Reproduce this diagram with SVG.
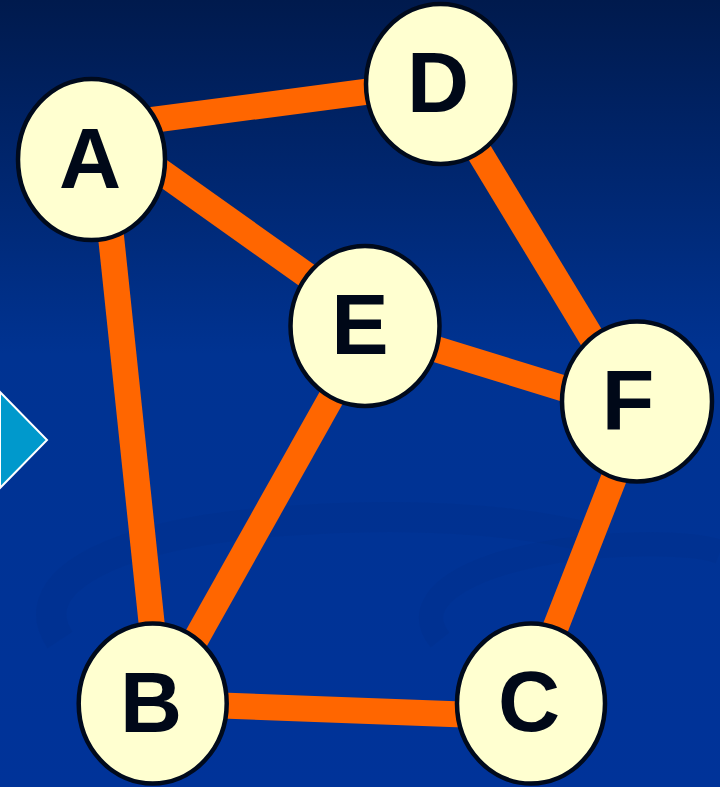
<svg xmlns="http://www.w3.org/2000/svg" width="720" height="787" viewBox="0 0 720 787">
  <defs>
    <linearGradient id="bg" x1="0" y1="0" x2="0" y2="1">
      <stop offset="0" stop-color="#001a4d"/>
      <stop offset="0.45" stop-color="#003392"/>
      <stop offset="1" stop-color="#003399"/>
    </linearGradient>
    <style>
      .edge { stroke: #ff6600; stroke-width: 26; stroke-linecap: butt; fill: none; }
      .node ellipse { fill: #ffffd0; stroke: #000a1c; stroke-width: 4.5; }
      .node text { font-family: "Liberation Sans", Arial, sans-serif; font-weight: bold; font-size: 86px; fill: #000818; text-anchor: middle; }
      .swirl { fill: none; stroke: #002a80; stroke-opacity: 0.18; }
    </style>
  </defs>

  <rect x="0" y="0" width="720" height="787" fill="url(#bg)"/>

  <g id="background-swirls">
    <path class="swirl" stroke-width="30" d="M 60 640 C 20 580, 120 530, 300 520 C 420 512, 520 520, 600 540"/>
    <path class="swirl" stroke-width="24" d="M 440 640 C 400 590, 500 550, 620 545 C 680 542, 710 548, 720 552"/>
  </g>

  <polygon id="pointer" points="0,392 47,440 0,488" fill="#0099cc" stroke="#ffffff" stroke-width="2"/>

  <g id="connectors">
    <line class="edge" x1="91" y1="128" x2="440" y2="82"/>
    <line class="edge" x1="91" y1="122" x2="364" y2="316"/>
    <line class="edge" x1="103" y1="160" x2="160" y2="703"/>
    <line class="edge" x1="372" y1="325" x2="160" y2="703"/>
    <line class="edge" x1="438" y1="84" x2="630" y2="401"/>
    <line class="edge" x1="364" y1="327" x2="637" y2="411"/>
    <line class="edge" x1="644" y1="401" x2="526" y2="703"/>
    <line class="edge" x1="153" y1="703" x2="531" y2="717"/>
  </g>

  <g id="node-A" class="node">
    <ellipse cx="91.5" cy="159.5" rx="73.5" ry="80.5"/>
    <text x="90" y="188">A</text>
  </g>
  <g id="node-D" class="node">
    <ellipse cx="440.5" cy="84" rx="74.5" ry="80"/>
    <text x="438" y="112">D</text>
  </g>
  <g id="node-E" class="node">
    <ellipse cx="365" cy="326" rx="74.5" ry="80"/>
    <text x="360" y="354">E</text>
  </g>
  <g id="node-F" class="node">
    <ellipse cx="637" cy="401.5" rx="75" ry="80"/>
    <text x="628" y="430">F</text>
  </g>
  <g id="node-B" class="node">
    <ellipse cx="152.7" cy="703.5" rx="74" ry="80"/>
    <text x="151" y="732">B</text>
  </g>
  <g id="node-C" class="node">
    <ellipse cx="531" cy="703.5" rx="74" ry="80"/>
    <text x="529" y="731">C</text>
  </g>
</svg>
